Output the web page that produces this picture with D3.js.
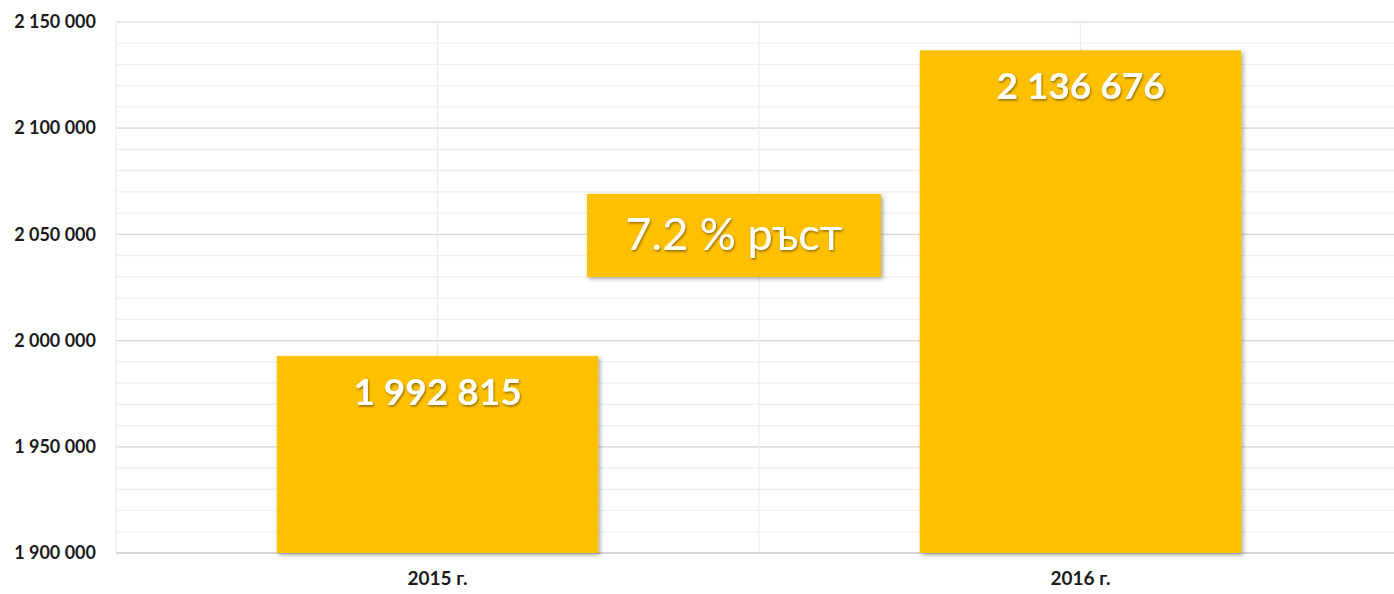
<!DOCTYPE html>
<html>
<head>
<meta charset="utf-8">
<script src="https://cdn.jsdelivr.net/npm/d3@7"></script>
<style>
  body { margin: 0; background: #fff; }
  svg { display: block; font-family: "Lato", "Open Sans", sans-serif; }
</style>
</head>
<body>
<div id="chart"></div>
<script>
// data
var categories = ["2015 г.", "2016 г."];
var values = [1992815, 2136676];
var yTicks = [1900000, 1950000, 2000000, 2050000, 2100000, 2150000];
var growthLabel = "7.2 % ръст";

var width = 1394, height = 594;
var margin = {top: 22, right: -8, bottom: 41, left: 116};
var innerW = width - margin.left - margin.right,
    innerH = height - margin.top - margin.bottom;

var fmt = function(v) { return d3.format(",")(v).replace(/,/g, " "); };

var svg = d3.select("#chart").append("svg")
    .attr("width", width)
    .attr("height", height);

// shadows
var defs = svg.append("defs");
var f = defs.append("filter").attr("id", "shadow")
    .attr("x", "-5%").attr("y", "-5%").attr("width", "115%").attr("height", "115%");
f.append("feDropShadow").attr("dx", 2).attr("dy", 2).attr("stdDeviation", 2)
    .attr("flood-color", "#000").attr("flood-opacity", 0.35);
var ft = defs.append("filter").attr("id", "tshadow");
ft.append("feDropShadow").attr("dx", 1).attr("dy", 1.5).attr("stdDeviation", 0.8)
    .attr("flood-color", "#000").attr("flood-opacity", 0.45);

var g = svg.append("g")
    .attr("transform", "translate(" + margin.left + "," + margin.top + ")");

var x = d3.scaleBand().domain(categories).range([0, innerW]).paddingInner(0).paddingOuter(0);
var y = d3.scaleLinear().domain([1900000, 2150000]).range([innerH, 0]);

// minor horizontal grid
var minor = d3.range(1900000, 2150001, 10000);
g.selectAll(".minor").data(minor).enter().append("line")
    .attr("x1", 0).attr("x2", innerW)
    .attr("y1", function(d) { return y(d); }).attr("y2", function(d) { return y(d); })
    .attr("stroke", "#efefef").attr("stroke-width", 1.2);

// major horizontal grid
g.selectAll(".major").data(yTicks).enter().append("line")
    .attr("x1", 0).attr("x2", innerW)
    .attr("y1", function(d) { return y(d); }).attr("y2", function(d) { return y(d); })
    .attr("stroke", "#d9d9d9").attr("stroke-width", 1.2);

// vertical grid at band edges and centres
var vLines = [];
categories.forEach(function(c) { vLines.push(x(c)); vLines.push(x(c) + x.bandwidth() / 2); });
vLines.push(innerW);
g.selectAll(".vgrid").data(vLines).enter().append("line")
    .attr("x1", function(d) { return d; }).attr("x2", function(d) { return d; })
    .attr("y1", 0).attr("y2", innerH)
    .attr("stroke", "#ececec").attr("stroke-width", 1.2);

// bottom axis line
g.append("line").attr("x1", 0).attr("x2", innerW)
    .attr("y1", innerH).attr("y2", innerH)
    .attr("stroke", "#d0d0d0").attr("stroke-width", 1.5);

// y axis labels
var yAxis = d3.axisLeft(y).tickValues(yTicks).tickSize(0).tickPadding(20).tickFormat(fmt);
g.append("g").call(yAxis)
    .call(function(s) { s.select(".domain").remove(); })
    .selectAll("text")
    .attr("font-family", "Lato, sans-serif")
    .attr("font-size", 18).attr("font-weight", "bold").attr("fill", "#1a1a1a");

// x axis labels
var xAxis = d3.axisBottom(x).tickSize(0).tickPadding(19);
g.append("g").attr("transform", "translate(0," + innerH + ")").call(xAxis)
    .call(function(s) { s.select(".domain").remove(); })
    .selectAll("text")
    .attr("font-family", "Lato, sans-serif")
    .attr("font-size", 19).attr("font-weight", "bold").attr("fill", "#1a1a1a");

// bars
var barW = x.bandwidth() * 0.5;
g.selectAll(".bar").data(values).enter().append("rect")
    .attr("x", function(d, i) { return x(categories[i]) + (x.bandwidth() - barW) / 2; })
    .attr("y", function(d) { return y(d); })
    .attr("width", barW)
    .attr("height", function(d) { return innerH - y(d); })
    .attr("fill", "#ffc000")
    .attr("filter", "url(#shadow)");

// value labels
g.selectAll(".lbl").data(values).enter().append("text")
    .attr("x", function(d, i) { return x(categories[i]) + x.bandwidth() / 2; })
    .attr("y", function(d) { return y(d) + 49; })
    .attr("text-anchor", "middle")
    .attr("font-family", "Lato, sans-serif")
    .attr("font-size", 37).attr("font-weight", "bold").attr("fill", "#fff")
    .attr("filter", "url(#tshadow)")
    .text(fmt);

// growth annotation box
var boxCx = x(categories[1]) - 25, boxW = 294, boxH = 83;
var boxCy = y(2050000) + 1;
g.append("rect")
    .attr("x", boxCx - boxW / 2).attr("y", boxCy - boxH / 2)
    .attr("width", boxW).attr("height", boxH)
    .attr("fill", "#ffc000").attr("filter", "url(#shadow)");
g.append("text")
    .attr("x", boxCx).attr("y", boxCy + 15)
    .attr("text-anchor", "middle")
    .attr("font-family", "Lato, sans-serif")
    .attr("font-size", 45).attr("fill", "#fff")
    .attr("filter", "url(#tshadow)")
    .text(growthLabel);
</script>
</body>
</html>
